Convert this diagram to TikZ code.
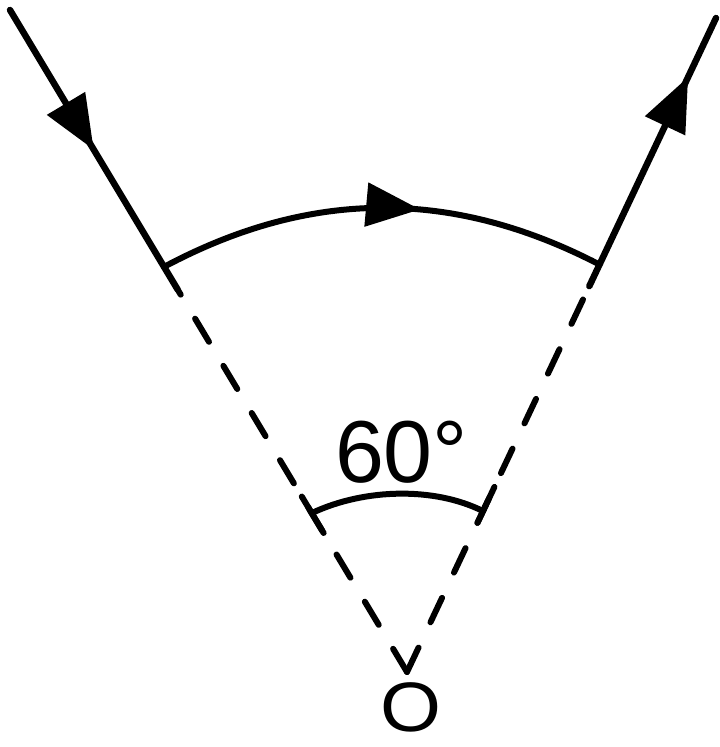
\documentclass[tikz,border=0pt]{standalone}
\usepackage{fontspec}
\setmainfont{Liberation Sans}
\usetikzlibrary{calc,arrows.meta,decorations.markings}
\tikzset{
  ray/.style={line width=6.5pt, line cap=round, line join=round},
  dashray/.style={line width=6pt, line cap=round, dash pattern=on 27pt off 28pt},
  arcline/.style={line width=6pt, line cap=round},
  bigtri/.tip={Triangle[length=54pt,width=43pt]},
  marktip/.style={postaction={decorate}, decoration={markings, mark=at position #1 with {\arrow{bigtri}}}},
  lbl/.style={inner sep=0pt, outer sep=0pt}
}
\begin{document}
\begin{tikzpicture}[x=1pt,y=-1pt]
\useasboundingbox (0,0) rectangle (720,747);
\coordinate (O) at (407,672);
\coordinate (A) at (10,10);
\coordinate (B) at (716,18);
\coordinate (L) at ($(O)!0.612!(A)$);
\coordinate (Ls) at ($(O)!0.578!(A)$);
\coordinate (R) at ($(O)!0.623!(B)$);
\coordinate (Rs) at ($(O)!0.590!(B)$);
% small arc ticks
\coordinate (l1) at ($(O)!0.265!(A)$);
\coordinate (l2) at ($(O)!0.210!(A)$);
\coordinate (lm) at ($(O)!0.240!(A)$);
\coordinate (r1) at ($(O)!0.283!(B)$);
\coordinate (r2) at ($(O)!0.228!(B)$);
\coordinate (rm) at ($(O)!0.246!(B)$);
% solid rays
\draw[ray, marktip=0.50] (A) -- (Ls);
\draw[ray, marktip=0.78] (Rs) -- (B);
% dashed rays
\draw[dashray] (O) -- (Ls);
\draw[dashray] (O) -- (Rs);
% big arc
\draw[arcline, marktip=0.585] (L) .. controls (310,189) and (452,188) .. (R);
% small arc
\draw[arcline] (lm) .. controls (365,488) and (435,487) .. (rm);
\draw[arcline] (l1) -- (l2);
\draw[arcline] (r1) -- (r2);
% labels
\node[lbl, anchor=base west, font=\fontsize{88}{88}\selectfont] (ang) at (335,482) {60°};
\node[lbl, anchor=base, font=\fontsize{70}{70}\selectfont] (olbl) at (411,731) {\scalebox{1.12}[1]{O}};
\end{tikzpicture}
\end{document}
